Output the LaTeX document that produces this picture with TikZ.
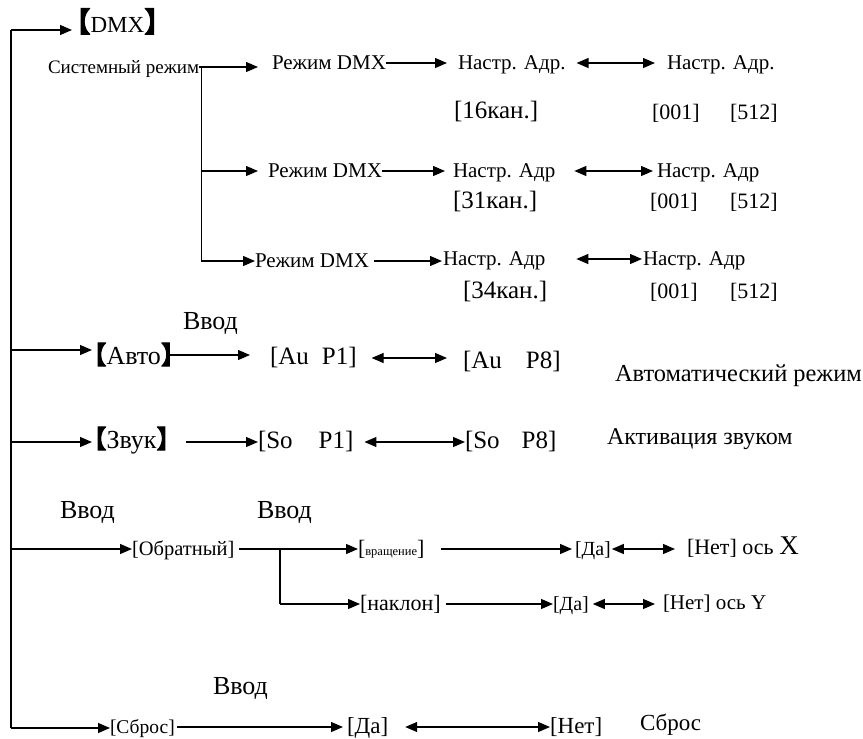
\documentclass[tikz,border=0pt]{standalone}
\usepackage{fontspec}
\setmainfont{Liberation Serif}
\newfontfamily\cjk[FakeBold=4]{Noto Sans CJK SC}
\usetikzlibrary{arrows.meta}
\newcommand\myfs[1]{\fontsize{#1}{#1}\selectfont}
\newcommand\lbr[1]{{\cjk\myfs{#1}\kern-0.62em 【}}
\newcommand\rbr[1]{{\cjk\myfs{#1}】\kern-0.62em}}
\begin{document}
\begin{tikzpicture}[x=1pt,y=-1pt,
  t/.style={anchor=west,inner sep=0pt,outer sep=0pt,text height=17pt,text depth=5pt,font=\myfs{21}},
  ln/.style={line width=1.2pt},
  arr/.style={line width=1.2pt,-{Triangle[length=12pt,width=10pt]}},
  dbl/.style={line width=1.2pt,{Triangle[length=12pt,width=10pt]}-{Triangle[length=12pt,width=10pt]}}]
\useasboundingbox (0,0) rectangle (863,739);
% main line
\coordinate (mtop) at (11,30);
\coordinate (mbot) at (11,728);
\draw[ln] (mtop) -- (mbot);
% DMX block
\node[t,font=\myfs{23}] (dmx) at (80,26) {\lbr{28}DMX\rbr{28}};
\node[t,font=\myfs{19}] (sys) at (48,67) {Системный режим};
\node[t] (r1) at (272,63) {Режим DMX};
\node[t] (n1) at (458,63) {Настр. Адр.};
\node[t] (m1) at (667,63) {Настр. Адр.};
\node[t,font=\myfs{25}] (k1) at (454,112) {[16кан.]};
\node[t,font=\myfs{22}] (a1) at (652,113) {[001]};
\node[t,font=\myfs{22}] (b1) at (730,113) {[512]};
\node[t] (r2) at (268,171) {Режим DMX};
\node[t] (n2) at (453,171) {Настр. Адр};
\node[t] (m2) at (657,171) {Настр. Адр};
\node[t,font=\myfs{25}] (k2) at (453,202) {[31кан.]};
\node[t,font=\myfs{22}] (a2) at (650,202) {[001]};
\node[t,font=\myfs{22}] (b2) at (730,202) {[512]};
\node[t] (r3) at (255,261) {Режим DMX};
\node[t] (n3) at (443,259) {Настр. Адр};
\node[t] (m3) at (643,259) {Настр. Адр};
\node[t,font=\myfs{25}] (k3) at (463,292) {[34кан.]};
\node[t,font=\myfs{22}] (a3) at (650,292) {[001]};
\node[t,font=\myfs{22}] (b3) at (730,292) {[512]};
% Auto
\node[t,font=\myfs{26}] (vv1) at (183,323) {Ввод};
\node[t,font=\myfs{26}] (auto) at (97,358) {\lbr{25}Авто\rbr{25}};
\node[t,font=\myfs{25}] (au1) at (270,358) {[Au\hspace{13pt}P1]};
\node[t,font=\myfs{25}] (au8) at (463,362) {[Au\hspace{24pt}P8]};
\node[t,font=\myfs{24.4}] (autt) at (615,375) {Автоматический режим};
% Sound
\node[t,font=\myfs{26}] (zvuk) at (97,442) {\lbr{25}Звук\rbr{25}};
\node[t,font=\myfs{25}] (so1) at (258,442) {[So\hspace{26pt}P1]};
\node[t,font=\myfs{25}] (so8) at (465,442) {[So\hspace{22pt}P8]};
\node[t,font=\myfs{24}] (akt) at (607,438) {Активация звуком};
% Reverse
\node[t,font=\myfs{26}] (vv2) at (60,512) {Ввод};
\node[t,font=\myfs{26}] (vv3) at (257,512) {Ввод};
\node[t,font=\myfs{20.5}] (obr) at (132,549) {[Обратный]};
\node[t,font=\myfs{22}] (vr) at (358,549) {[{\myfs{12.5}вращение}]};
\node[t,font=\myfs{22}] (nak) at (360,604) {[наклон]};
\node[t,font=\myfs{20}] (da1) at (575,549) {[Да]};
\node[t,font=\myfs{22}] (net1) at (687,548) {[Нет] ось {\myfs{27}X}};
\node[t,font=\myfs{20}] (da2) at (553,604) {[Да]};
\node[t,font=\myfs{21}] (net2) at (663,603) {[Нет] ось Y};
% Reset
\node[t,font=\myfs{26}] (vv4) at (213,688) {Ввод};
\node[t,font=\myfs{19.5}] (sbr) at (110,727) {[Сброс]};
\node[t,font=\myfs{23}] (da3) at (347,727) {[Да]};
\node[t,font=\myfs{23}] (net3) at (550,727) {[Нет]};
\node[t,font=\myfs{23}] (sbt) at (640,724) {Сброс};
% branches from main line
\draw[arr] (mtop) -- ([xshift=-8pt]mtop -| dmx.west);
\draw[arr] ([yshift=8pt]mtop |- auto.west) -- ([yshift=8pt,xshift=-5pt]auto.west);
\draw[arr] (mtop |- zvuk.west) -- ([xshift=-5pt]zvuk.west);
\draw[arr] (mtop |- obr.west) -- (obr.west);
\draw[arr] (mbot) -- (mbot -| sbr.west);
% DMX connectors
\coordinate (br) at ([xshift=2pt]sys.east);
\draw[arr] (sys.east) -- ([xshift=-14pt]sys.east -| r1.west);
\draw[arr] (br |- r2.west) -- ([xshift=-10pt]r2.west);
\draw[ln] (br) -- (br |- r3.west);
\draw[arr] (br |- r3.west) -- (r3.west);
\draw[arr] (r1.east) -- ([xshift=-11pt]r1.east -| n1.west);
\draw[dbl] ([xshift=11pt]n1.east) -- ([xshift=-12pt]n1.east -| m1.west);
\draw[arr] (r2.east) -- ([xshift=-8pt]r2.east -| n2.west);
\draw[dbl] ([xshift=19pt]n2.east) -- ([xshift=-4pt]n2.east -| m2.west);
\draw[arr] ([xshift=5pt]r3.east) -- ([xshift=-1pt]r3.east -| n3.west);
\draw[dbl] ([xshift=31pt]n3.east) -- ([xshift=-1pt]n3.east -| m3.west);
% Auto / Sound
\draw[arr] ([yshift=3pt]auto.east) -- ([yshift=3pt,xshift=-20pt]auto.east -| au1.west);
\draw[dbl] ([xshift=15pt]au1.east) -- ([xshift=-16pt]au1.east -| au8.west);
\draw[arr] ([xshift=20pt]zvuk.east) -- (zvuk.east -| so1.west);
\draw[dbl] ([xshift=11pt]so1.east) -- (so1.east -| so8.west);
% Reverse
\coordinate (br2) at (280,0);
\draw[arr] ([xshift=5pt]obr.east) -- (obr.east -| vr.west);
\draw[ln] (br2 |- obr.east) -- (br2 |- nak.west);
\draw[arr] (br2 |- nak.west) -- (nak.west);
\draw[arr] ([xshift=17pt]vr.east) -- ([xshift=-3pt]vr.east -| da1.west);
\draw[dbl] ([xshift=1pt]da1.east) -- ([xshift=-12pt]da1.east -| net1.west);
\draw[arr] ([xshift=5pt]nak.east) -- (nak.east -| da2.west);
\draw[dbl] ([xshift=4pt]da2.east) -- ([xshift=-8pt]da2.east -| net2.west);
% Reset
\draw[arr] ([xshift=2pt]sbr.east) -- ([xshift=-4pt]sbr.east -| da3.west);
\draw[dbl] ([xshift=17pt]da3.east) -- (da3.east -| net3.west);
\end{tikzpicture}
\end{document}
